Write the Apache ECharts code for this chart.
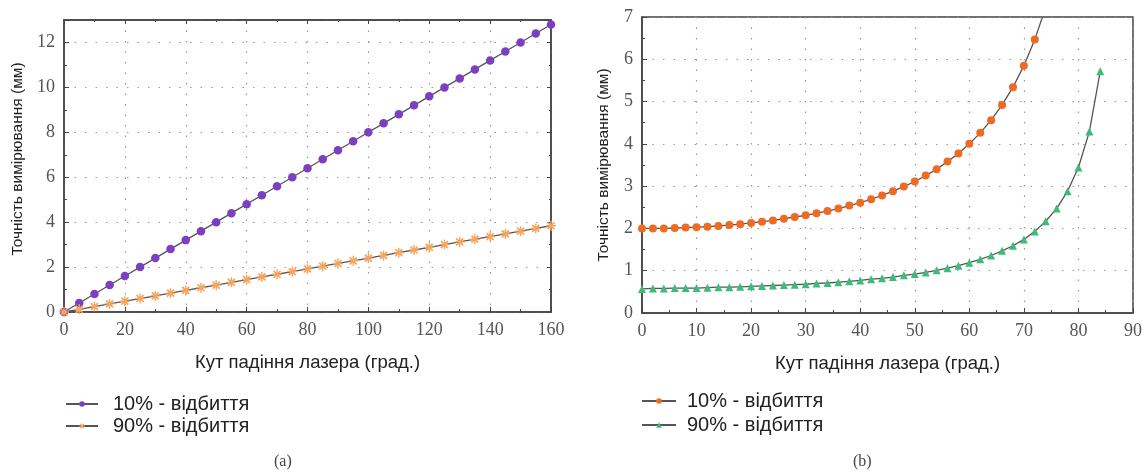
<!DOCTYPE html>
<html>
<head>
<meta charset="utf-8">
<script src="https://cdn.jsdelivr.net/npm/echarts@6/dist/echarts.min.js"></script>
<style>
html,body{margin:0;padding:0;background:#fff}
#main{width:1147px;height:472px}
</style>
</head>
<body>
<div id="main"></div>
<script>
// (a) точність від кута, лінійна
var angA = [0,5,10,15,20,25,30,35,40,45,50,55,60,65,70,75,80,85,90,95,100,105,110,115,120,125,130,135,140,145,150,155,160];
var a10 = [0,0.4,0.8,1.2,1.6,2.0,2.4,2.8,3.2,3.6,4.0,4.4,4.8,5.2,5.6,6.0,6.4,6.8,7.2,7.6,8.0,8.4,8.8,9.2,9.6,10.0,10.4,10.8,11.2,11.6,12.0,12.4,12.8];
var a90 = [0,0.12,0.24,0.36,0.48,0.6,0.72,0.84,0.96,1.08,1.2,1.32,1.44,1.56,1.68,1.8,1.92,2.04,2.16,2.28,2.4,2.52,2.64,2.76,2.88,3.0,3.12,3.24,3.36,3.48,3.6,3.72,3.84];

// (b)
var angB10 = [0,2,4,6,8,10,12,14,16,18,20,22,24,26,28,30,32,34,36,38,40,42,44,46,48,50,52,54,56,58,60,62,64,66,68,70,72];
var b10 = [2.00,2.00,2.00,2.01,2.02,2.03,2.04,2.06,2.08,2.10,2.13,2.16,2.19,2.23,2.27,2.31,2.36,2.41,2.47,2.54,2.61,2.69,2.78,2.88,2.99,3.11,3.25,3.40,3.58,3.77,4.00,4.26,4.56,4.92,5.34,5.85,6.47];
var b10End = [73.4, 7.0]; // крива йде за межу графіка
var angB90 = [0,2,4,6,8,10,12,14,16,18,20,22,24,26,28,30,32,34,36,38,40,42,44,46,48,50,52,54,56,58,60,62,64,66,68,70,72,74,76,78,80,82,84];
var b90 = [0.57,0.58,0.58,0.59,0.59,0.59,0.60,0.61,0.61,0.62,0.63,0.64,0.65,0.66,0.67,0.68,0.70,0.71,0.73,0.75,0.77,0.80,0.82,0.85,0.89,0.92,0.96,1.01,1.06,1.12,1.19,1.27,1.36,1.47,1.59,1.74,1.93,2.17,2.47,2.88,3.44,4.29,5.72];

var legendNames = {a10:'10% - відбиття', a90:'90% - відбиття', b10:'10% - відбиття', b90:'90% - відбиття'};

function pairs(xs, ys) {
  return xs.map(function (x, i) { return [x, ys[i]]; });
}

var serif = 'Liberation Serif', sans = 'Liberation Sans';
var axisCol = '#444';
var starPath = 'path://M4.3 0L5.7 0L5.7 10L4.3 10Z M0 4.3L10 4.3L10 5.7L0 5.7Z M0.9 2.1L2.1 0.9L9.1 7.9L7.9 9.1Z M7.9 0.9L9.1 2.1L2.1 9.1L0.9 7.9Z';

function mainAxis(gi, pos, min, max, interval, name, gap, showMax, nameFont, namePad) {
  return {
    type: 'value', gridIndex: gi, position: pos, min: min, max: max, interval: interval,
    name: name, nameLocation: 'middle', nameGap: gap,
    nameTextStyle: {fontFamily: sans, fontSize: nameFont, color: '#222', padding: namePad || 0},
    axisLine: {show: true, onZero: false, lineStyle: {color: axisCol, width: 1.5}},
    axisTick: {show: true, inside: true, length: 5, lineStyle: {color: axisCol}},
    minorTick: {show: true, splitNumber: 2, length: 3, lineStyle: {color: axisCol}},
    axisLabel: {fontFamily: serif, fontSize: 18, color: '#555', margin: 9, showMaxLabel: showMax},
    splitLine: {show: true, lineStyle: {color: '#999', type: [1.5, 9], width: 1.2}}
  };
}
function mirrorAxis(gi, pos, min, max, interval) {
  return {
    type: 'value', gridIndex: gi, position: pos, min: min, max: max, interval: interval,
    axisLine: {show: true, onZero: false, lineStyle: {color: axisCol, width: 1.5}},
    axisTick: {show: true, inside: true, length: 4, lineStyle: {color: axisCol}},
    minorTick: {show: true, splitNumber: 2, length: 2, lineStyle: {color: axisCol}},
    axisLabel: {show: false},
    splitLine: {show: false}
  };
}

var lineStyle = {color: '#555', width: 1.3};
var legendText = {fontFamily: sans, fontSize: 20, color: '#222', lineHeight: 20};

var chart = echarts.init(document.getElementById('main'));
var option = {
  animation: false,
  backgroundColor: '#fff',
  grid: [
    {left: 64, top: 20, width: 487, height: 292, show: true, borderColor: axisCol, borderWidth: 1.5},
    {left: 642, top: 17, width: 491, height: 296, show: true, borderColor: axisCol, borderWidth: 1.5}
  ],
  xAxis: [
    mainAxis(0, 'bottom', 0, 160, 20, 'Кут падіння лазера (град.)', 41, true, 18.5),
    mainAxis(1, 'bottom', 0, 90, 10, 'Кут падіння лазера (град.)', 41, true, 18.5),
    mirrorAxis(0, 'top', 0, 160, 20)
  ],
  yAxis: [
    mainAxis(0, 'left', 0, 13, 2, 'Точність вимірювання (мм)', 38, false, 15.5, [0, 0, 0, 14]),
    mainAxis(1, 'left', 0, 7, 1, 'Точність вимірювання (мм)', 30, true, 15.5),
    mirrorAxis(0, 'right', 0, 13, 2)
  ],
  legend: [
    {
      data: ['a10', 'a90'], orient: 'vertical', left: 60, top: 389, itemGap: 2, padding: [5, 5, 5, 5],
      itemWidth: 32, itemHeight: 7, formatter: function (n) { return legendNames[n]; },
      textStyle: Object.assign({padding: [0, 0, 0, 10]}, legendText)
    },
    {
      data: ['b10', 'b90'], orient: 'vertical', left: 636, top: 386, itemGap: 4, padding: [5, 5, 5, 5],
      itemWidth: 34, itemHeight: 7, formatter: function (n) { return legendNames[n]; },
      textStyle: Object.assign({padding: [0, 0, 0, 6]}, legendText)
    }
  ],
  graphic: [
    {type: 'text', left: 274, top: 454, style: {text: '(a)', fontFamily: serif, fontSize: 16, fill: '#444'}},
    {type: 'text', left: 853, top: 454, style: {text: '(b)', fontFamily: serif, fontSize: 16, fill: '#444'}}
  ],
  series: [
    {
      name: 'a10', type: 'line', xAxisIndex: 0, yAxisIndex: 0, data: pairs(angA, a10),
      symbol: 'circle', symbolSize: 8.5, showAllSymbol: true, lineStyle: lineStyle,
      itemStyle: {color: '#7d3fc2'}
    },
    {
      name: 'a90', type: 'line', xAxisIndex: 0, yAxisIndex: 0, data: pairs(angA, a90),
      symbol: starPath, symbolSize: 10, showAllSymbol: true, lineStyle: lineStyle,
      itemStyle: {color: '#f6a55e'}
    },
    {
      name: 'b10', type: 'line', xAxisIndex: 1, yAxisIndex: 1,
      data: pairs(angB10, b10).concat([{value: b10End, symbol: 'none'}]),
      symbol: 'circle', symbolSize: 8, showAllSymbol: true, lineStyle: lineStyle,
      itemStyle: {color: '#f06b22'}, clip: true
    },
    {
      name: 'b90', type: 'line', xAxisIndex: 1, yAxisIndex: 1, data: pairs(angB90, b90),
      symbol: 'triangle', symbolSize: 8, showAllSymbol: true, lineStyle: lineStyle,
      itemStyle: {color: '#3dbb78'}
    }
  ]
};
chart.setOption(option);
</script>
</body>
</html>
